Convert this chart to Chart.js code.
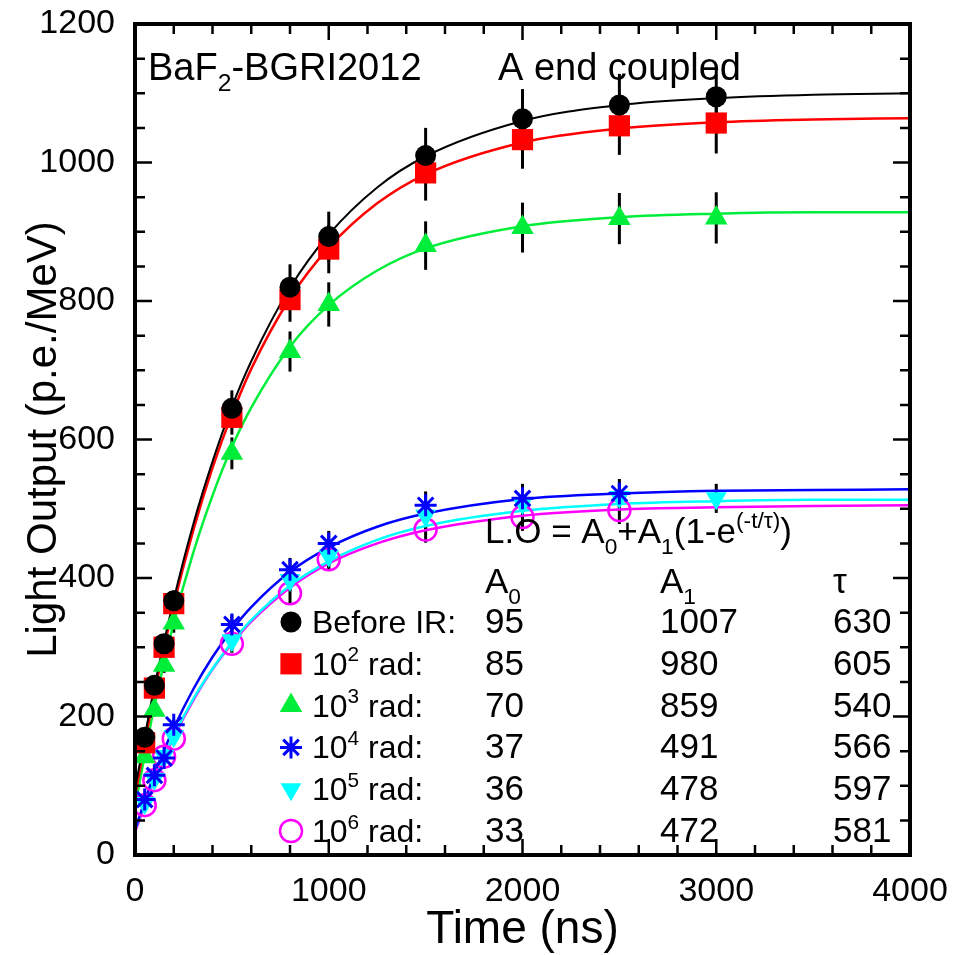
<!DOCTYPE html>
<html>
<head>
<meta charset="utf-8">
<script src="https://cdn.jsdelivr.net/npm/chart.js@4.4.0/dist/chart.umd.min.js"></script>
<style>
  html, body { margin: 0; padding: 0; background: #fff; }
  #wrap { width: 955px; height: 955px; }
</style>
</head>
<body>
<div id="wrap"><canvas id="lo_chart" width="955" height="955"></canvas></div>
<script>
// MEASURED POINTS (time in ns)
const meas_t = [50, 100, 150, 200, 500, 800, 1000, 1500, 2000, 2500, 3000];
const before_ir = [170, 245, 305, 367, 645, 820, 893, 1010, 1063, 1083, 1095];
const rad_1e2 = [162, 241, 300, 363, 632, 802, 875, 985, 1033, 1053, 1057];
const rad_1e3 = [142, 209, 274, 335, 580, 727, 795, 880, 906, 919, 920];
const rad_1e4 = [80, 115, 140, 188, 333, 412, 450, 505, 515, 522, null];
const rad_1e5 = [75, 110, 143, 172, 310, 397, 432, 490, 508, 517, 515];
const rad_1e6 = [72, 108, 142, 168, 305, 378, 427, 470, 488, 498, null];

// error bars (+/-)
const err_before = [8, 10, 12, 15, 26, 33, 36, 40, 43, 45, 42];
const err_1e2 = [8, 10, 12, 15, 25, 32, 35, 40, 42, 42, 44];
const err_1e3 = [7, 9, 11, 14, 23, 29, 32, 35, 36, 37, 37];
const err_1e4 = [4, 5, 6, 8, 14, 17, 18, 20, 21, 21, null];
const err_1e5 = [4, 5, 6, 8, 13, 16, 18, 20, 20, 21, 21];
const err_1e6 = [4, 5, 6, 7, 13, 16, 17, 19, 20, 20, null];

// FIT CURVES
const fit_t = [0, 100, 200, 300, 400, 500, 600, 800, 1000, 1250, 1500, 2000, 2500, 3000, 3500, 4000];
const fit_before = [95, 243, 369, 477, 568, 647, 713, 819, 896, 964, 1009, 1060, 1083, 1093, 1098, 1100];
const fit_1e2 = [85, 234, 361, 468, 559, 636, 702, 804, 877, 941, 983, 1029, 1049, 1058, 1062, 1064];
const fit_1e3 = [70, 215, 336, 436, 519, 589, 646, 734, 794, 844, 876, 908, 921, 926, 928, 928];
const fit_1e4 = [37, 117, 183, 239, 286, 325, 358, 409, 444, 474, 493, 514, 522, 526, 527, 528];
const fit_1e5 = [36, 110, 172, 225, 269, 307, 339, 389, 424, 455, 475, 497, 507, 511, 513, 513];
const fit_1e6 = [33, 108, 170, 223, 268, 305, 337, 386, 421, 450, 469, 490, 499, 502, 504, 505];

// legend table
const labels = ['Before IR:', '10|2| rad:', '10|3| rad:', '10|4| rad:', '10|5| rad:', '10|6| rad:'];
const a0_list = ['95', '85', '70', '37', '36', '33'];
const a1_list = ['1007', '980', '859', '491', '478', '472'];
const tau_list = ['630', '605', '540', '566', '597', '581'];

const x_ticks = [0, 1000, 2000, 3000, 4000];
const y_ticks = [0, 200, 400, 600, 800, 1000, 1200];

const FONT = "'Liberation Sans', Arial, sans-serif";
const colors = ['#000000', '#ff0000', '#00ee3a', '#0000ff', '#00ffff', '#ff00ff'];
const styles = [
  { pointStyle: 'circle', radius: 10.5, rotation: 0, fill: true },
  { pointStyle: 'rect', radius: 15, rotation: 0, fill: true },
  { pointStyle: 'triangle', radius: 13, rotation: 0, fill: true },
  { pointStyle: 'star', radius: 11, rotation: 0, fill: false },
  { pointStyle: 'triangle', radius: 12, rotation: 180, fill: true },
  { pointStyle: 'circle', radius: 11, rotation: 0, fill: false }
];
const meas = [before_ir, rad_1e2, rad_1e3, rad_1e4, rad_1e5, rad_1e6];
const errs = [err_before, err_1e2, err_1e3, err_1e4, err_1e5, err_1e6];
const fits = [fit_before, fit_1e2, fit_1e3, fit_1e4, fit_1e5, fit_1e6];

function toXY(xs, ys) {
  let out = [];
  xs.forEach((x, i) => {
    if (ys[i] !== null) out.push({ x: x, y: ys[i] });
  });
  return out;
}

let datasets = [];
// markers first so they end up on top
meas.forEach((ys, i) => {
  let s = styles[i];
  datasets.push({
    label: 'pts' + i,
    data: toXY(meas_t, ys),
    showLine: false,
    pointStyle: s.pointStyle,
    pointRadius: s.radius,
    pointRotation: s.rotation,
    pointBackgroundColor: s.fill ? colors[i] : 'rgba(0,0,0,0)',
    pointBorderColor: colors[i],
    pointBorderWidth: s.fill ? 0 : (s.pointStyle === 'star' ? 3 : 2.5)
  });
});
fits.forEach((ys, i) => {
  datasets.push({
    label: 'fit' + i,
    data: toXY(fit_t, ys),
    showLine: true,
    borderColor: colors[i],
    borderWidth: i === 0 ? 2 : 2.5,
    pointRadius: 0,
    cubicInterpolationMode: 'monotone',
    fill: false
  });
});

// error bars under everything
const errorBars = {
  id: 'errorBars',
  beforeDatasetsDraw(chart) {
    const ctx = chart.ctx, xs = chart.scales.x, ys = chart.scales.y;
    ctx.save();
    ctx.strokeStyle = '#000';
    ctx.lineWidth = 3;
    errs.forEach((e, i) => {
      meas[i].forEach((v, j) => {
        if (v === null || e[j] === null) return;
        const px = xs.getPixelForValue(meas_t[j]);
        ctx.beginPath();
        ctx.moveTo(px, ys.getPixelForValue(v - e[j]));
        ctx.lineTo(px, ys.getPixelForValue(v + e[j]));
        ctx.stroke();
      });
    });
    ctx.restore();
  }
};

function drawMarker(ctx, i, x, y) {
  const s = styles[i];
  const r = s.radius;
  ctx.save();
  ctx.fillStyle = colors[i];
  ctx.strokeStyle = colors[i];
  ctx.beginPath();
  if (s.pointStyle === 'circle') {
    ctx.arc(x, y, r, 0, Math.PI * 2);
    if (s.fill) ctx.fill(); else { ctx.lineWidth = 2.5; ctx.stroke(); }
  } else if (s.pointStyle === 'rect') {
    const h = r * Math.SQRT1_2;
    ctx.fillRect(x - h, y - h, 2 * h, 2 * h);
  } else if (s.pointStyle === 'triangle') {
    const dir = s.rotation ? -1 : 1;
    for (let k = 0; k < 3; k++) {
      const a = -Math.PI / 2 + k * 2 * Math.PI / 3;
      const px = x + r * Math.cos(a);
      const py = y + dir * r * Math.sin(a);
      if (k === 0) ctx.moveTo(px, py); else ctx.lineTo(px, py);
    }
    ctx.closePath();
    ctx.fill();
  } else if (s.pointStyle === 'star') {
    ctx.lineWidth = 3;
    for (let k = 0; k < 4; k++) {
      const a = k * Math.PI / 4;
      ctx.moveTo(x - r * Math.cos(a), y - r * Math.sin(a));
      ctx.lineTo(x + r * Math.cos(a), y + r * Math.sin(a));
    }
    ctx.stroke();
  }
  ctx.restore();
}

// text with sub / sup pieces
function drawRich(ctx, parts, x, y, size) {
  let cx = x;
  parts.forEach(p => {
    let sz = size, dy = 0;
    if (p.sub) { sz = size * 0.65; dy = size * 0.3; }
    if (p.sup) { sz = size * 0.65; dy = -size * 0.42; }
    ctx.font = sz + 'px ' + FONT;
    ctx.fillText(p.t, cx, y + dy);
    cx += ctx.measureText(p.t).width;
  });
}

const frameAndText = {
  id: 'frameAndText',
  afterDraw(chart) {
    const ctx = chart.ctx, a = chart.chartArea;
    const xs = chart.scales.x, ys = chart.scales.y;
    ctx.save();
    // inward ticks on all four sides
    ctx.strokeStyle = '#000';
    ctx.lineWidth = 2.5;
    ctx.beginPath();
    for (let v = 0; v <= 4000; v += 200) {
      const px = xs.getPixelForValue(v);
      const len = (v % 1000 === 0) ? 16 : 10;
      ctx.moveTo(px, a.bottom); ctx.lineTo(px, a.bottom - len);
      ctx.moveTo(px, a.top); ctx.lineTo(px, a.top + len);
    }
    for (let v = 0; v <= 1200; v += 50) {
      const py = ys.getPixelForValue(v);
      const len = (v % 200 === 0) ? 17 : 10;
      ctx.moveTo(a.left, py); ctx.lineTo(a.left + len, py);
      ctx.moveTo(a.right, py); ctx.lineTo(a.right - len, py);
    }
    ctx.stroke();
    // frame
    ctx.lineWidth = 4;
    ctx.strokeRect(a.left, a.top, a.right - a.left, a.bottom - a.top);

    ctx.fillStyle = '#000';
    ctx.textBaseline = 'alphabetic';
    ctx.textAlign = 'left';
    // titles inside the plot
    drawRich(ctx, [{ t: 'BaF' }, { t: '2', sub: true }, { t: '-BGRI2012' }], 148, 80, 38);
    drawRich(ctx, [{ t: 'A end coupled' }], 498, 80, 38);
    // formula
    drawRich(ctx, [{ t: 'L.O = A' }, { t: '0', sub: true }, { t: '+A' }, { t: '1', sub: true },
      { t: '(1-e' }, { t: '(-t/\u03c4)', sup: true }, { t: ')' }], 485, 543, 35);
    // table header
    drawRich(ctx, [{ t: 'A' }, { t: '0', sub: true }], 485, 593, 35);
    drawRich(ctx, [{ t: 'A' }, { t: '1', sub: true }], 660, 593, 35);
    drawRich(ctx, [{ t: '\u03c4' }], 833, 593, 35);
    // rows
    labels.forEach((lab, i) => {
      const base = 633 + i * 41.8;
      drawMarker(ctx, i, 291, base - 11);
      const bits = lab.split('|');
      let parts = [{ t: bits[0] }];
      if (bits.length > 1) { parts.push({ t: bits[1], sup: true }); parts.push({ t: bits[2] }); }
      drawRich(ctx, parts, 312, base, 32);
      drawRich(ctx, [{ t: a0_list[i] }], 485, base, 35);
      drawRich(ctx, [{ t: a1_list[i] }], 660, base, 35);
      drawRich(ctx, [{ t: tau_list[i] }], 833, base, 35);
    });
    ctx.restore();
  }
};

const ctx = document.getElementById('lo_chart').getContext('2d');
const my_chart = new Chart(ctx, {
  type: 'scatter',
  data: { datasets: datasets },
  options: {
    responsive: false,
    animation: false,
    events: [],
    layout: { padding: { left: 0, right: 45, top: 24, bottom: 0 } },
    plugins: { legend: { display: false }, tooltip: { enabled: false } },
    scales: {
      x: {
        type: 'linear', min: 0, max: 4000,
        afterBuildTicks: s => { s.ticks = x_ticks.map(v => ({ value: v })); },
        afterFit: s => { s.height = 100; s.paddingLeft = 0; s.paddingRight = 0; },
        grid: { display: false, drawTicks: false },
        border: { display: false },
        ticks: { color: '#000', font: { family: FONT, size: 34 }, padding: 16, maxRotation: 0, callback: v => String(v) },
        title: { display: true, text: 'Time (ns)', color: '#000', font: { family: FONT, size: 46, lineHeight: 1.0 }, padding: { top: 0, bottom: 2 } }
      },
      y: {
        type: 'linear', min: 0, max: 1200,
        afterBuildTicks: s => { s.ticks = y_ticks.map(v => ({ value: v })); },
        afterFit: s => { s.width = 135; s.paddingTop = 0; s.paddingBottom = 0; },
        grid: { display: false, drawTicks: false },
        border: { display: false },
        ticks: { color: '#000', font: { family: FONT, size: 34 }, padding: 20, callback: v => String(v) },
        title: { display: true, text: 'Light Output (p.e./MeV)', color: '#000', font: { family: FONT, size: 42 }, padding: { top: 19, bottom: 0 } }
      }
    }
  },
  plugins: [errorBars, frameAndText]
});
</script>
</body>
</html>
